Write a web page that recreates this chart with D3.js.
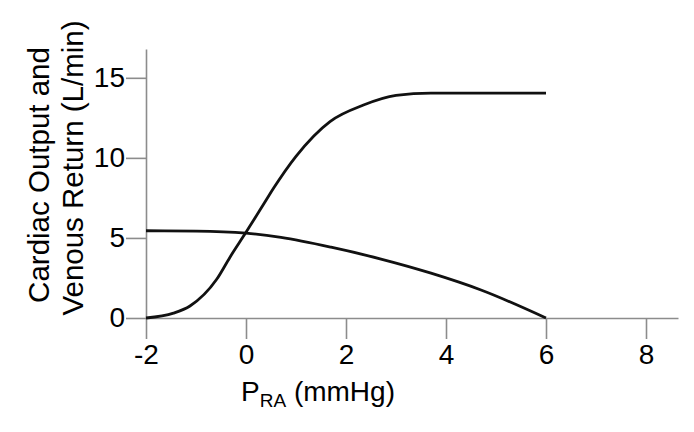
<!DOCTYPE html>
<html><head><meta charset="utf-8">
<script src="https://cdn.jsdelivr.net/npm/d3@7"></script>
<style>html,body{margin:0;padding:0;background:#fff;}svg{display:block;font-family:"Liberation Sans",Arial,Helvetica,sans-serif;}</style>
</head><body>
<script>
// Data
const coX = [-2, -1.45, -1.12, -0.59, -0.32, 0, 0.41, 0.55, 1.0, 1.68, 2.35, 3.0, 3.7, 6];
const coY = [0, 0.3, 0.75, 2.4, 3.8, 5.35, 7.4, 8.1, 10.1, 12.27, 13.3, 13.9, 14.05, 14.05];
const vrX = [-2, -1, 0, 0.7, 1.7, 2.7, 3.7, 4.7, 6];
const vrY = [5.45, 5.43, 5.3, 5.03, 4.42, 3.68, 2.8, 1.75, 0];
const xTicks = [-2, 0, 2, 4, 6, 8];
const yTicks = [0, 5, 10, 15];
const yTitle = ["Cardiac Output and", "Venous Return (L/min)"];

const W = 694, H = 432;
const svg = d3.select("body").append("svg").attr("width", W).attr("height", H);
const x = d3.scaleLinear().domain([-2, 8.64]).range([146, 678]);
const y = d3.scaleLinear().domain([0, 16.8]).range([318, 49]);
const axisColor = "#8c8c8c";
const fs = 28;

const xAxis = svg.append("g").attr("transform", `translate(0,${y(0)})`)
  .call(d3.axisBottom(x).tickValues(xTicks).tickSize(21).tickSizeOuter(0).tickPadding(5).tickFormat(d => d < 0 ? "-" + Math.abs(d) : d));
const yAxis = svg.append("g").attr("transform", `translate(${x(-2)},0)`)
  .call(d3.axisLeft(y).tickValues(yTicks).tickSize(20).tickSizeOuter(0).tickPadding(1));
[xAxis, yAxis].forEach(g => {
  g.select(".domain").attr("stroke", axisColor).attr("stroke-width", 1.6);
  g.selectAll(".tick line").attr("stroke", axisColor).attr("stroke-width", 1.6);
  g.selectAll(".tick text").attr("fill", "#000").attr("font-size", fs).attr("font-family", "Liberation Sans, Arial, sans-serif");
});

const line = d3.line().x(d => x(d[0])).y(d => y(d[1])).curve(d3.curveMonotoneX);
svg.append("path").datum(coX.map((v, i) => [v, coY[i]])).attr("d", line)
  .attr("fill", "none").attr("stroke", "#111").attr("stroke-width", 2.8);
svg.append("path").datum(vrX.map((v, i) => [v, vrY[i]])).attr("d", line)
  .attr("fill", "none").attr("stroke", "#111").attr("stroke-width", 2.8);

// Y title
const yCenters = [175, 168];
const yBase = [49, 83];
yTitle.forEach((t, i) => {
  svg.append("text").attr("transform", `translate(${yBase[i]},${yCenters[i]}) rotate(-90)`)
    .attr("text-anchor", "middle").attr("font-size", 29.5).attr("fill", "#000").text(t);
});

// X title
const xt = svg.append("text").attr("x", 318).attr("y", 401).attr("text-anchor", "middle")
  .attr("font-size", 28).attr("fill", "#000");
xt.append("tspan").text("P");
xt.append("tspan").attr("font-size", 19).attr("dy", 6).text("RA");
xt.append("tspan").attr("dy", -6).text(" (mmHg)");
</script>
</body></html>
